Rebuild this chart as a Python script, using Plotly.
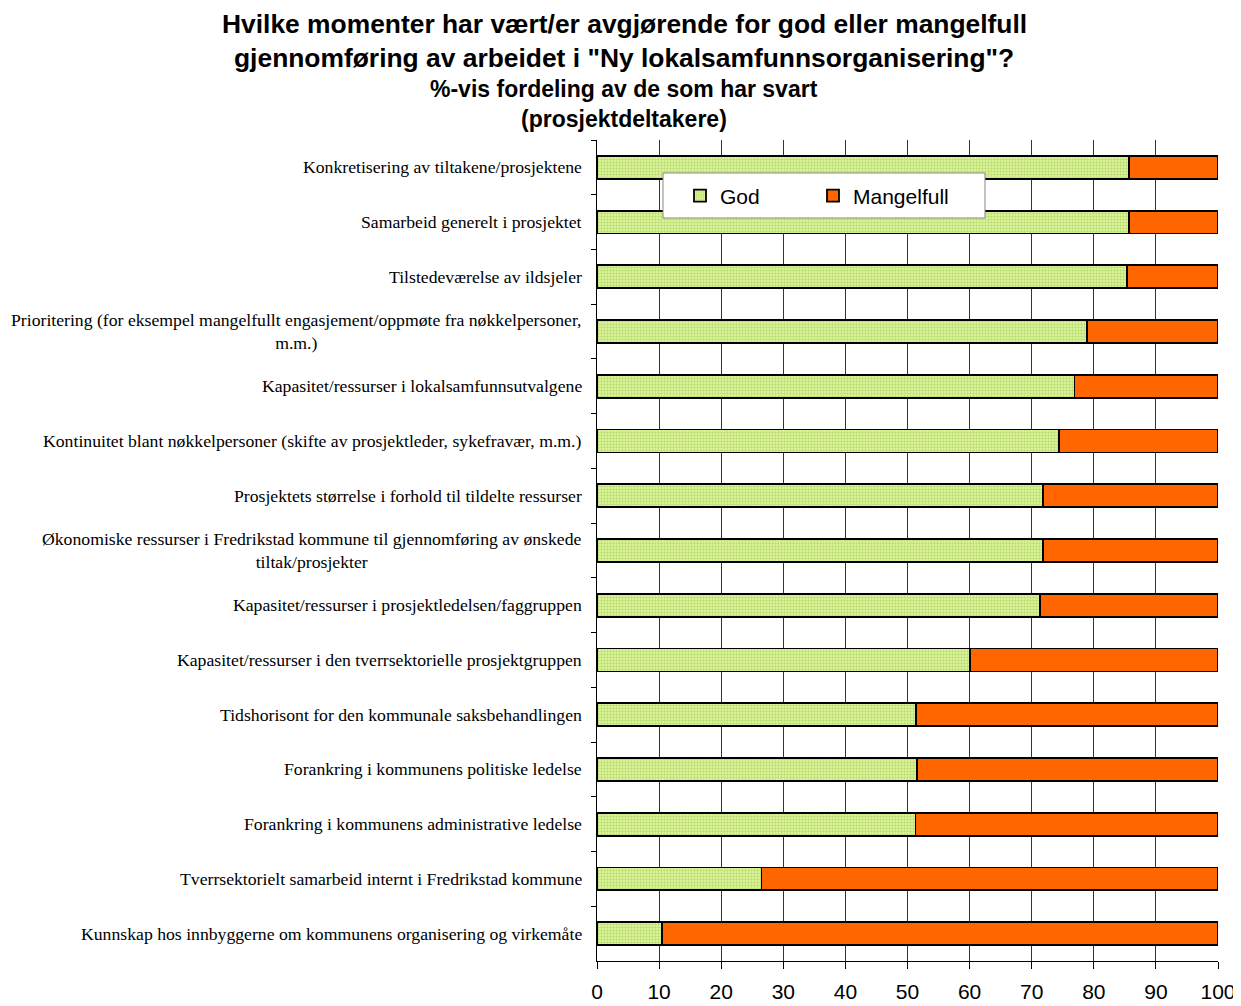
import plotly.graph_objects as go

categories = [
    "Konkretisering av tiltakene/prosjektene",
    "Samarbeid generelt i prosjektet",
    "Tilstedeværelse av ildsjeler",
    "Prioritering (for eksempel mangelfullt engasjement/oppmøte fra nøkkelpersoner,<br>m.m.)",
    "Kapasitet/ressurser i lokalsamfunnsutvalgene",
    "Kontinuitet blant nøkkelpersoner (skifte av prosjektleder, sykefravær, m.m.)",
    "Prosjektets størrelse i forhold til tildelte ressurser",
    "Økonomiske ressurser i Fredrikstad kommune til gjennomføring av ønskede<br>tiltak/prosjekter",
    "Kapasitet/ressurser i prosjektledelsen/faggruppen",
    "Kapasitet/ressurser i den tverrsektorielle prosjektgruppen",
    "Tidshorisont for den kommunale saksbehandlingen",
    "Forankring i kommunens politiske ledelse",
    "Forankring i kommunens administrative ledelse",
    "Tverrsektorielt samarbeid internt i Fredrikstad kommune",
    "Kunnskap hos innbyggerne om kommunens organisering og virkemåte",
]
god = [85.7, 85.7, 85.4, 78.9, 76.9, 74.4, 71.8, 71.8, 71.4, 60.0, 51.4, 51.5, 51.3, 26.5, 10.5]
mangelfull = [round(100 - g, 1) for g in god]

title_lines = [
    "Hvilke momenter har vært/er avgjørende for god eller mangelfull",
    "gjennomføring av arbeidet i \"Ny lokalsamfunnsorganisering\"?",
    "%-vis fordeling av de som har svart",
    "(prosjektdeltakere)",
]
x_ticks = list(range(0, 101, 10))

# page has an 8px body margin; work in screen pixels and convert
OFF = 8
W, H = 1233, 998
PL, PR, PT, PB = 597, 1218, 140, 961  # plot area in screen px
L = PL - OFF
R = W - (PR - OFF)
T = PT - OFF
B = H - (PB - OFF)
plot_w = PR - PL
plot_h = PB - PT

def xpaper(px):
    return (px - PL) / plot_w

def ypaper(px):
    return (PB - px) / plot_h

fig = go.Figure()
fig.add_trace(go.Bar(
    y=categories, x=god, name="God", orientation="h", width=0.42, legend="legend",
    marker=dict(color="#d4ee8c", line=dict(color="black", width=1.8),
                pattern=dict(shape=".", fgcolor="#8fc23a", bgcolor="#e4f7a6", size=3, solidity=0.5)),
))
fig.add_trace(go.Bar(
    y=categories, x=mangelfull, name="Mangelfull", orientation="h", width=0.42, legend="legend2",
    marker=dict(color="#ff6600", line=dict(color="black", width=1.8)),
))

for c in categories:
    fig.add_annotation(x=0, xref="paper", y=c, yref="y", text=c, showarrow=False,
                       xanchor="right", yanchor="middle", align="center", xshift=-13,
                       font=dict(family="Liberation Serif, Times New Roman, serif", size=17.7, color="black"))

title_specs = [(title_lines[0], 24, 26.4), (title_lines[1], 58, 26.4), (title_lines[2], 89, 23), (title_lines[3], 119, 23)]
for txt, ypx, sz in title_specs:
    fig.add_annotation(x=xpaper(624), xref="paper", y=ypaper(ypx), yref="paper",
                       text="<b>" + txt + "</b>", showarrow=False, xanchor="center", yanchor="middle",
                       font=dict(family="Liberation Sans, Arial, sans-serif", size=sz, color="black"))

# legend frame
fig.add_shape(type="rect", xref="paper", yref="paper",
              x0=xpaper(663), x1=xpaper(985), y0=ypaper(218), y1=ypaper(173),
              fillcolor="white", line=dict(color="#888888", width=1), layer="above")

leg_common = dict(orientation="h", yanchor="middle", xanchor="left", y=ypaper(196),
                  bgcolor="rgba(0,0,0,0)", borderwidth=0,
                  font=dict(size=21, family="Liberation Sans, Arial, sans-serif", color="black"))
fig.update_layout(
    width=W, height=H, barmode="stack",
    margin=dict(l=L, r=R, t=T, b=B),
    paper_bgcolor="white", plot_bgcolor="white",
    font=dict(family="Liberation Sans, Arial, sans-serif", color="black"),
    showlegend=True,
    legend=dict(x=xpaper(680), **leg_common),
    legend2=dict(x=xpaper(813), **leg_common),
)
fig.update_xaxes(range=[0, 100], tickvals=x_ticks, ticktext=[str(t) for t in x_ticks],
                 showgrid=True, gridcolor="#333333", gridwidth=1,
                 ticks="outside", ticklen=7, tickcolor="black", ticklabelstandoff=5,
                 ticklabeloverflow="allow", automargin=False,
                 showline=True, linecolor="black", linewidth=1,
                 tickfont=dict(size=21, family="Liberation Sans, Arial, sans-serif"),
                 zeroline=False, fixedrange=True)
fig.update_yaxes(categoryorder="array", categoryarray=categories, autorange="reversed",
                 showticklabels=False, tickson="boundaries", ticks="outside", ticklen=5,
                 automargin=False,
                 tickcolor="black", showline=True, linecolor="black", linewidth=1,
                 showgrid=False, fixedrange=True)

fig.write_html("out.html")
